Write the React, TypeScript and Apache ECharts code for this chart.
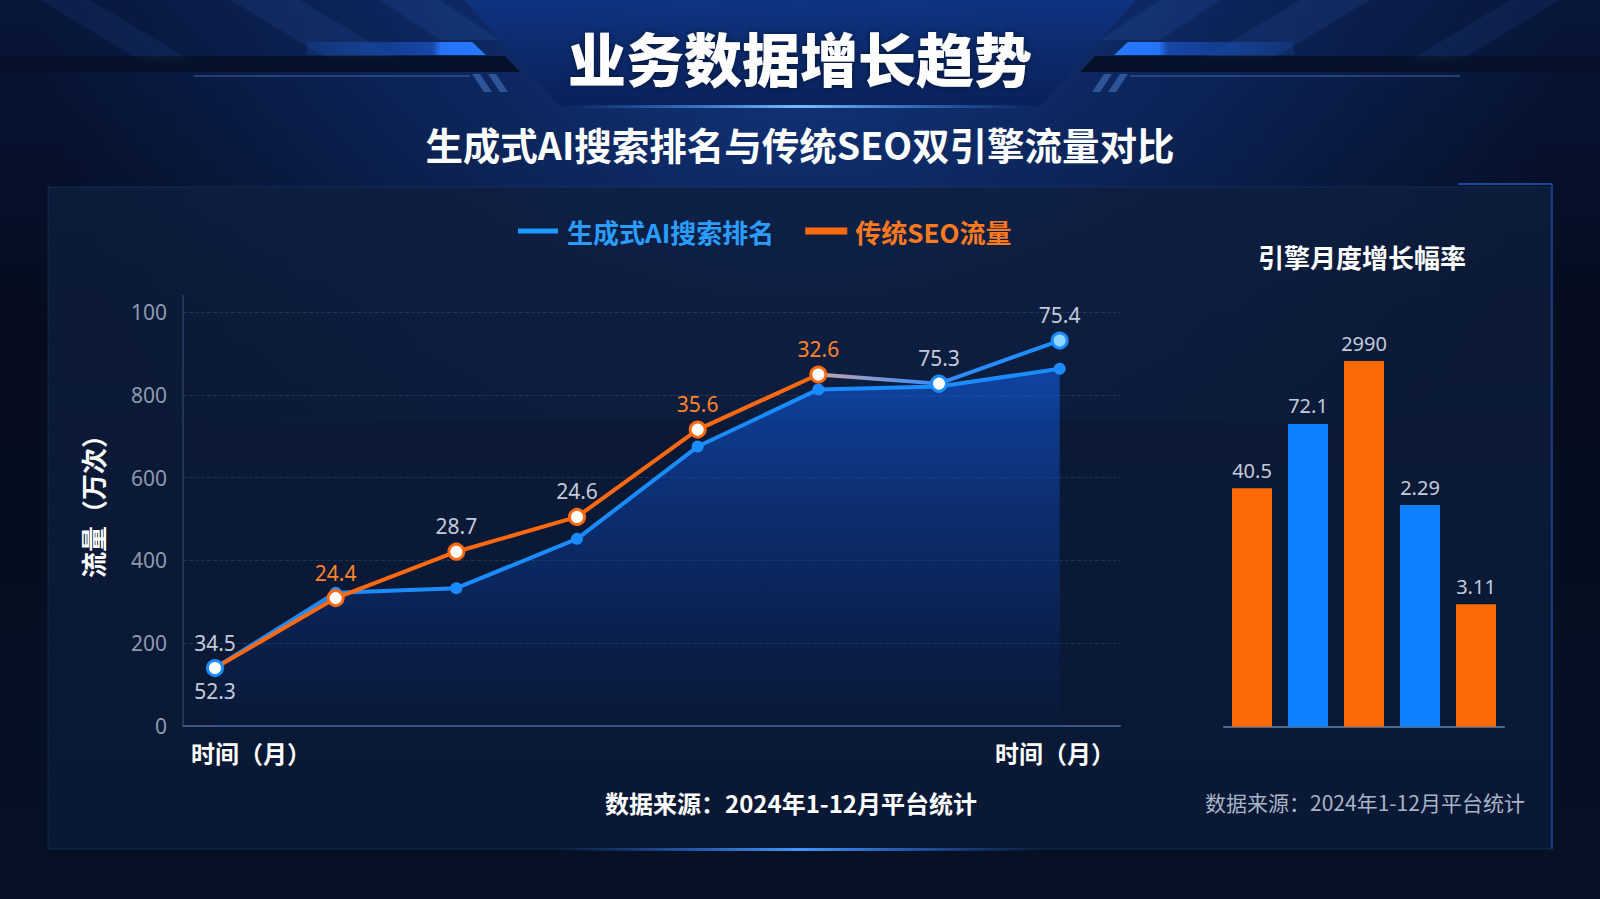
import React, { useEffect, useRef } from 'react';
import * as echarts from 'echarts';

// 折线：月份序号 0..7
const months = [0, 1, 2, 3, 4, 5, 6, 7];
const aiValues = [140, 322, 333, 452, 675, 813, 820, 863];
const seoValues = [140, 309, 421, 505, 716, 849, 827, 931];
const aiLabels = ['52.3', '', '', '', '', '', '', ''];
const seoLabels = ['34.5', '24.4', '28.7', '24.6', '35.6', '32.6', '75.3', '75.4'];
const yTickLabels = ['0', '200', '400', '600', '800', '100'];

// 柱状：引擎月度增长幅率
const barCategories = ['1', '2', '3', '4', '5'];
const barHeights = [59.6, 75.7, 91.4, 55.4, 30.6];
const barLabels = ['40.5', '72.1', '2990', '2.29', '3.11'];

const CJK = '"Noto Sans CJK SC", "Noto Sans", sans-serif';
const NUM = '"Noto Sans", "Noto Sans CJK SC", sans-serif';
const BLUE = '#1a8cff';
const ORANGE = '#ff6a10';
const LABEL_GRAY = '#c3cbdb';
const orangeLabelIdx = [1, 4, 5];

const App: React.FC = () => {
  const chartRef = useRef<HTMLDivElement>(null);

  useEffect(() => {
    if (!chartRef.current) return;
    document.body.style.margin = '0';
    const chart = echarts.init(chartRef.current, undefined, { renderer: 'svg' });

    const lin = (x2: number, y2: number, stops: [number, string][]) =>
      new echarts.graphic.LinearGradient(0, 0, x2, y2, stops.map(([offset, color]) => ({ offset, color })));

    const seoData = seoValues.map((v, i) => {
      const item: any = {
        value: [months[i], v],
        label: { color: orangeLabelIdx.includes(i) ? '#ff8526' : LABEL_GRAY },
      };
      if (i === 0 || i === 6) item.itemStyle = { color: '#ffffff', borderColor: BLUE };
      if (i === 7) item.itemStyle = { color: '#8fd6ff', borderColor: BLUE };
      return item;
    });

    const aiData = aiValues.map((v, i) => {
      const item: any = { value: [months[i], v] };
      if (i === 0) item.itemStyle = { color: '#ffffff', borderColor: BLUE, borderWidth: 3 };
      return item;
    });

    const option: echarts.EChartsOption = {
      animation: false,
      backgroundColor: '#050b1a',
      graphic: [
        {
          type: 'rect', z: -100, silent: true,
          shape: { x: 0, y: 0, width: 1600, height: 899 },
          style: { fill: lin(0, 1, [[0, '#08163a'], [0.35, '#050c1e'], [1, '#061126']]) },
        },
        {
          type: 'rect', z: -99, silent: true,
          shape: { x: 0, y: 0, width: 1600, height: 420 },
          style: {
            fill: new echarts.graphic.RadialGradient(800, 0, 760, [
              { offset: 0, color: 'rgba(30,95,220,0.45)' },
              { offset: 1, color: 'rgba(30,95,220,0)' },
            ], true),
          },
        },
        // 顶部斜纹
        { type: 'polygon', z: -98, silent: true, shape: { points: [[40, 0], [90, 0], [190, 60], [140, 60]] }, style: { fill: 'rgba(60,120,220,0.10)' } },
        { type: 'polygon', z: -98, silent: true, shape: { points: [[230, 0], [300, 0], [400, 60], [330, 60]] }, style: { fill: 'rgba(60,120,220,0.12)' } },
        { type: 'polygon', z: -98, silent: true, shape: { points: [[380, 0], [440, 0], [500, 40], [440, 40]] }, style: { fill: 'rgba(60,120,220,0.14)' } },
        { type: 'polygon', z: -98, silent: true, shape: { points: [[1560, 0], [1510, 0], [1410, 60], [1460, 60]] }, style: { fill: 'rgba(60,120,220,0.10)' } },
        { type: 'polygon', z: -98, silent: true, shape: { points: [[1370, 0], [1300, 0], [1200, 60], [1270, 60]] }, style: { fill: 'rgba(60,120,220,0.12)' } },
        { type: 'polygon', z: -98, silent: true, shape: { points: [[1220, 0], [1160, 0], [1100, 40], [1160, 40]] }, style: { fill: 'rgba(60,120,220,0.14)' } },
        // 暗带
        {
          type: 'polygon', z: -97, silent: true,
          shape: { points: [[0, 56], [505, 56], [520, 72], [0, 72]] },
          style: { fill: lin(1, 0, [[0, 'rgba(2,6,16,0.25)'], [0.6, 'rgba(2,6,16,0.6)'], [1, 'rgba(2,6,16,0.7)']]) },
        },
        {
          type: 'polygon', z: -97, silent: true,
          shape: { points: [[1600, 56], [1095, 56], [1080, 72], [1600, 72]] },
          style: { fill: lin(1, 0, [[0, 'rgba(2,6,16,0.7)'], [0.4, 'rgba(2,6,16,0.6)'], [1, 'rgba(2,6,16,0.25)']]) },
        },
        { type: 'line', z: -96, silent: true, shape: { x1: 194, y1: 76, x2: 470, y2: 76 }, style: { stroke: 'rgba(70,110,170,0.45)', lineWidth: 2 } },
        { type: 'line', z: -96, silent: true, shape: { x1: 1130, y1: 76, x2: 1460, y2: 76 }, style: { stroke: 'rgba(70,110,170,0.45)', lineWidth: 2 } },
        { type: 'polygon', z: -96, silent: true, shape: { points: [[472, 74], [480, 74], [492, 92], [484, 92]] }, style: { fill: 'rgba(80,130,210,0.5)' } },
        { type: 'polygon', z: -96, silent: true, shape: { points: [[488, 74], [496, 74], [508, 92], [500, 92]] }, style: { fill: 'rgba(80,130,210,0.5)' } },
        { type: 'polygon', z: -96, silent: true, shape: { points: [[1128, 74], [1120, 74], [1108, 92], [1116, 92]] }, style: { fill: 'rgba(80,130,210,0.5)' } },
        { type: 'polygon', z: -96, silent: true, shape: { points: [[1112, 74], [1104, 74], [1092, 92], [1100, 92]] }, style: { fill: 'rgba(80,130,210,0.5)' } },
        // 亮条
        {
          type: 'polygon', z: -95, silent: true,
          shape: { points: [[306, 42], [472, 42], [486, 55], [306, 55]] },
          style: { fill: lin(1, 0, [[0, 'rgba(30,100,230,0.15)'], [0.7, 'rgba(30,100,230,0.55)'], [0.75, 'rgba(40,120,255,0.95)'], [1, 'rgba(40,120,255,1)']]) },
        },
        {
          type: 'polygon', z: -95, silent: true,
          shape: { points: [[1294, 42], [1128, 42], [1114, 55], [1294, 55]] },
          style: { fill: lin(1, 0, [[0, 'rgba(40,120,255,1)'], [0.25, 'rgba(40,120,255,0.95)'], [0.3, 'rgba(30,100,230,0.55)'], [1, 'rgba(30,100,230,0.15)']]) },
        },
        // 标题底板
        {
          type: 'polygon', z: -94, silent: true,
          shape: { points: [[464, 0], [1136, 0], [1039, 107], [561, 107]] },
          style: { fill: lin(0, 1, [[0, 'rgba(14,52,130,0.9)'], [1, 'rgba(8,32,88,0.92)']]) },
        },
        {
          type: 'rect', z: -93, silent: true,
          shape: { x: 560, y: 105, width: 480, height: 3 },
          style: { fill: lin(1, 0, [[0, 'rgba(60,150,255,0)'], [0.5, 'rgba(120,190,255,1)'], [1, 'rgba(60,150,255,0)']]) },
        },
        // 面板
        {
          type: 'rect', z: -90, silent: true,
          shape: { x: 48, y: 187, width: 1503, height: 662 },
          style: {
            fill: lin(0, 1, [[0, 'rgba(14,30,62,0.8)'], [1, 'rgba(10,26,56,0.8)']]),
            stroke: 'rgba(50,90,150,0.3)', lineWidth: 1,
          },
        },
        { type: 'line', z: -89, silent: true, shape: { x1: 1552, y1: 184, x2: 1552, y2: 849 }, style: { stroke: 'rgba(40,110,220,0.45)', lineWidth: 2 } },
        { type: 'line', z: -89, silent: true, shape: { x1: 1458, y1: 184, x2: 1552, y2: 184 }, style: { stroke: 'rgba(40,110,220,0.6)', lineWidth: 2 } },
        {
          type: 'rect', z: -89, silent: true,
          shape: { x: 560, y: 848, width: 480, height: 3 },
          style: { fill: lin(1, 0, [[0, 'rgba(40,120,255,0)'], [0.5, 'rgba(70,150,255,1)'], [1, 'rgba(40,120,255,0)']]) },
        },
        // 纵轴线延伸
        { type: 'line', z: -80, silent: true, shape: { x1: 183, y1: 295, x2: 183, y2: 312 }, style: { stroke: '#2c3d62', lineWidth: 1.5 } },
        // 文本
        {
          type: 'text', z: 10, x: 800, y: 57,
          style: {
            text: '业务数据增长趋势', fill: '#ffffff', font: `900 58px ${CJK}`,
            align: 'center', verticalAlign: 'middle',
            textShadowColor: 'rgba(0,0,0,0.5)', textShadowBlur: 6,
          } as any,
        },
        {
          type: 'text', z: 10, x: 800, y: 143,
          style: { text: '生成式AI搜索排名与传统SEO双引擎流量对比', fill: '#ffffff', font: `bold 37.5px ${CJK}`, align: 'center', verticalAlign: 'middle' },
        },
        {
          type: 'text', z: 10, x: 1362, y: 256,
          style: { text: '引擎月度增长幅率', fill: '#ffffff', font: `bold 26px ${CJK}`, align: 'center', verticalAlign: 'middle' },
        },
        {
          type: 'text', z: 10, x: 92, y: 500, rotation: Math.PI / 2,
          style: { text: '流量（万次）', fill: '#ffffff', font: `bold 26px ${CJK}`, align: 'center', verticalAlign: 'middle' },
        },
        {
          type: 'text', z: 10, x: 191, y: 752,
          style: { text: '时间（月）', fill: '#ffffff', font: `bold 24px ${CJK}`, align: 'left', verticalAlign: 'middle' },
        },
        {
          type: 'text', z: 10, x: 995, y: 752,
          style: { text: '时间（月）', fill: '#ffffff', font: `bold 24px ${CJK}`, align: 'left', verticalAlign: 'middle' },
        },
        {
          type: 'text', z: 10, x: 791, y: 802,
          style: { text: '数据来源：2024年1-12月平台统计', fill: '#ffffff', font: `bold 24px ${CJK}`, align: 'center', verticalAlign: 'middle' },
        },
        {
          type: 'text', z: 10, x: 1365, y: 802,
          style: { text: '数据来源：2024年1-12月平台统计', fill: '#a9b4c9', font: `21px ${CJK}`, align: 'center', verticalAlign: 'middle' },
        },
      ],
      legend: {
        left: 513,
        top: 213,
        icon: 'rect',
        itemWidth: 40,
        itemHeight: 5,
        itemGap: 31,
        selectedMode: false,
        textStyle: { fontSize: 26, fontWeight: 'bold', fontFamily: CJK, padding: [0, 0, 0, 4] },
        data: [
          { name: '生成式AI搜索排名', itemStyle: { color: '#1a9bff' }, textStyle: { color: '#2a9dff' } },
          { name: '传统SEO流量', itemStyle: { color: ORANGE }, textStyle: { color: '#ff7a1f' } },
        ],
      },
      grid: [
        { left: 183, right: 480, top: 312, bottom: 173 },
        { left: 1224, width: 280, top: 326.7, bottom: 172.3 },
      ],
      xAxis: [
        {
          type: 'value', gridIndex: 0, min: -0.265, max: 7.5,
          axisLine: { show: true, onZero: false, lineStyle: { color: '#3d5582', width: 2 } },
          axisTick: { show: false }, axisLabel: { show: false }, splitLine: { show: false },
        },
        {
          type: 'category', gridIndex: 1, data: barCategories,
          axisLine: { show: true, lineStyle: { color: '#4a6a95', width: 2 } },
          axisTick: { show: false }, axisLabel: { show: false },
        },
      ],
      yAxis: [
        {
          type: 'value', gridIndex: 0, min: 0, max: 1000, interval: 200,
          axisLine: { show: true, onZero: false, lineStyle: { color: '#2c3d62', width: 1.5 } },
          axisTick: { show: false },
          axisLabel: {
            color: '#8e9ab2', fontSize: 21, margin: 16, fontFamily: NUM,
            formatter: (v: number) => yTickLabels[Math.round(v / 200)] ?? '',
          },
          splitLine: { show: true, lineStyle: { color: 'rgba(120,140,180,0.22)', type: 'dashed' } },
        },
        {
          type: 'value', gridIndex: 1, min: 0, max: 100,
          axisLine: { show: false }, axisTick: { show: false }, axisLabel: { show: false }, splitLine: { show: false },
        },
      ],
      series: [
        {
          name: '生成式AI搜索排名',
          type: 'line',
          xAxisIndex: 0, yAxisIndex: 0,
          z: 3,
          data: aiData,
          symbol: 'circle',
          symbolSize: 12,
          lineStyle: { color: BLUE, width: 4 },
          itemStyle: { color: BLUE },
          areaStyle: {
            color: lin(0, 1, [[0, 'rgba(18,96,236,0.82)'], [0.6, 'rgba(12,62,165,0.5)'], [1, 'rgba(10,40,110,0.12)']]),
          },
          label: {
            show: true, position: 'bottom', distance: 5,
            color: LABEL_GRAY, fontSize: 21, fontFamily: NUM,
            formatter: (p: any) => aiLabels[p.dataIndex],
          },
        },
        {
          name: '传统SEO流量',
          type: 'line',
          xAxisIndex: 0, yAxisIndex: 0,
          z: 4,
          data: seoData,
          symbol: 'circle',
          symbolSize: 15,
          lineStyle: {
            width: 4,
            color: lin(1, 0, [
              [0, ORANGE], [0.714, ORANGE], [0.716, '#c8a4ac'], [0.857, '#2f8cff'], [1, BLUE],
            ]),
          },
          itemStyle: { color: '#ffffff', borderColor: ORANGE, borderWidth: 3 },
          label: {
            show: true, position: 'top', distance: 6,
            fontSize: 21, fontFamily: NUM,
            formatter: (p: any) => seoLabels[p.dataIndex],
          },
        },
        {
          name: '增长幅率',
          type: 'bar',
          xAxisIndex: 1, yAxisIndex: 1,
          barWidth: 40,
          data: barHeights.map((v, i) => ({
            value: v,
            itemStyle: { color: i % 2 === 0 ? '#fb6a05' : '#0f80ff' },
          })),
          label: {
            show: true, position: 'top', distance: 8,
            color: LABEL_GRAY, fontSize: 20, fontFamily: NUM,
            formatter: (p: any) => barLabels[p.dataIndex],
          },
        },
      ],
    };

    chart.setOption(option);

    const handleResize = () => chart.resize();
    window.addEventListener('resize', handleResize);
    return () => {
      window.removeEventListener('resize', handleResize);
      chart.dispose();
    };
  }, []);

  return (
    <div
      ref={chartRef}
      style={{ position: 'fixed', left: 0, top: 0, width: 1600, height: 899, background: '#050b1a' }}
    />
  );
};

export default App;
